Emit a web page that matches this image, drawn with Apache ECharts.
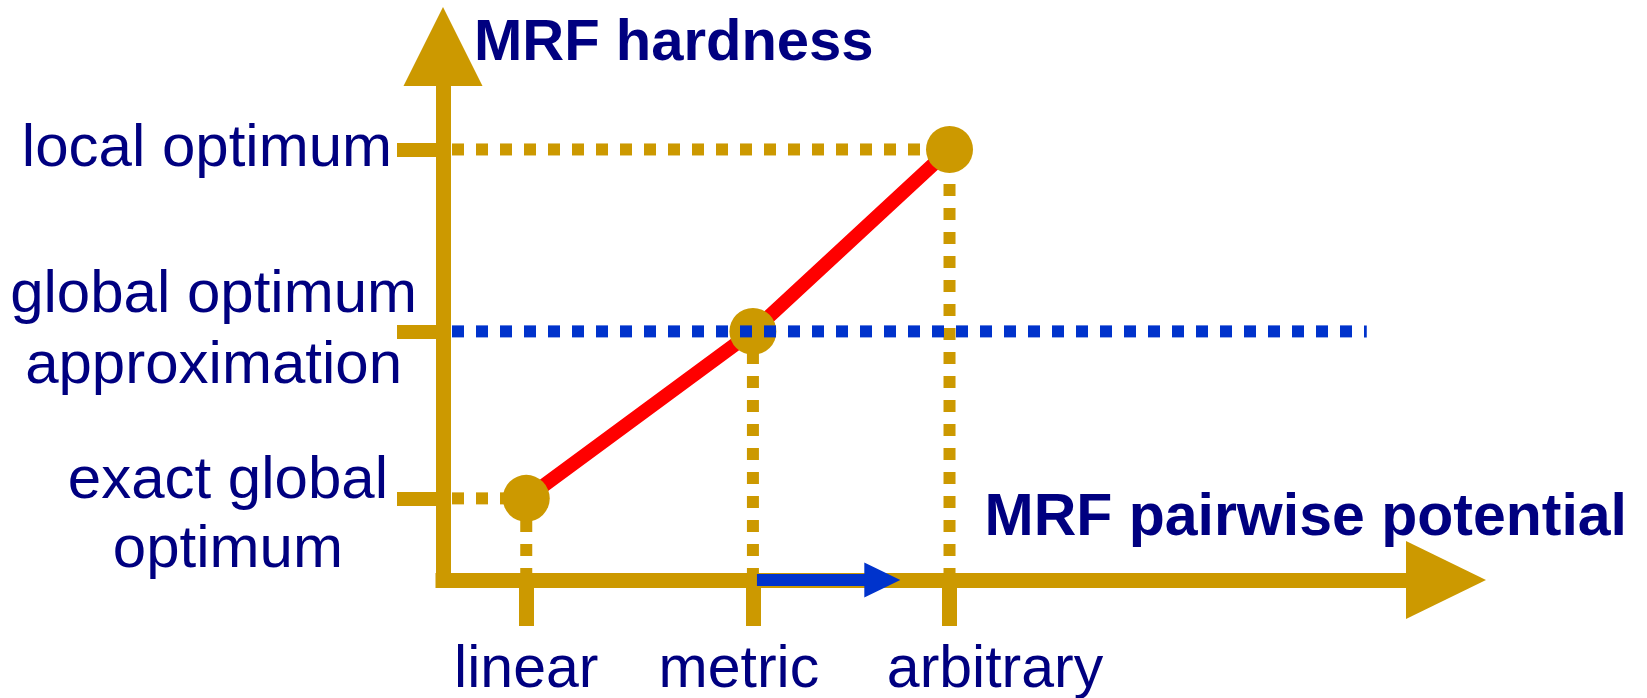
<!DOCTYPE html>
<html>
<head>
<meta charset="utf-8">
<title>MRF hardness vs pairwise potential</title>
<script src="https://cdn.jsdelivr.net/npm/echarts@6.0.0/dist/echarts.min.js"></script>
<style>
  html, body { margin: 0; padding: 0; background: #fff; }
  #chart { width: 1647px; height: 698px; }
</style>
</head>
<body>
<div id="chart"></div>
<script>
// x positions of the pairwise potential classes, y positions of the hardness levels
const potentialNames = ['linear', 'metric', 'arbitrary'];
const potentialX = [0.83, 3.09, 5.05];
const hardnessNames = ['exact global\noptimum', 'global optimum\napproximation', 'local optimum'];
const hardnessY = [1.53, 4.66, 8.07];
// blue dotted "approximation" level ends here
const approxLineEnd = 9.21;
// blue arrow along the x axis, from / to
const shiftArrow = [3.13, 4.38];

const GOLD = '#cc9900';
const NAVY = '#000080';
const BLUE = '#0033cc';
const RED = '#ff0000';
const FONT = '"Liberation Sans", Helvetica, Arial, sans-serif';

const xKeys = ['lin', 'met', 'arb'];
const yKeys = ['exact', 'approx', 'local'];

const xLabelText = { fontFamily: FONT, fontSize: 59, color: NAVY };
const yLabelText = { fontFamily: FONT, fontSize: 60, color: NAVY };

function guide(points, color, offset, z) {
  return {
    type: 'line',
    data: points,
    symbol: 'none',
    silent: true,
    z: z,
    lineStyle: { color: color, width: 12, type: [12, 12], dashOffset: offset, cap: 'butt' },
  };
}

const points = potentialX.map((x, i) => [x, hardnessY[i]]);

const series = [];
// vertical gold guides down to the x axis
potentialX.forEach((x, i) => {
  series.push(guide([[x, 0], [x, hardnessY[i]]], GOLD, 0, 1));
});
// horizontal gold guides to the y axis (the middle one is blue)
[0, 2].forEach((i) => {
  series.push(guide([[0, hardnessY[i]], [potentialX[i], hardnessY[i]]], GOLD, 15, 1));
});
series.push({
  type: 'line',
  data: points,
  symbol: 'none',
  silent: true,
  z: 2,
  lineStyle: { color: RED, width: 14 },
});
series.push({
  type: 'scatter',
  data: points,
  symbolSize: 47,
  silent: true,
  z: 3,
  itemStyle: { color: GOLD, opacity: 1 },
});
series.push(guide([[0, hardnessY[1]], [approxLineEnd, hardnessY[1]]], BLUE, 15, 4));
series.push({
  type: 'line',
  data: [],
  z: 5,
  markLine: {
    silent: true,
    animation: false,
    symbol: ['none', 'triangle'],
    symbolSize: [35, 36],
    label: { show: false },
    lineStyle: { color: BLUE, width: 12, type: 'solid', cap: 'butt' },
    data: [[{ coord: [shiftArrow[0], 0] }, { coord: [shiftArrow[1], 0] }]],
  },
});

const chart = echarts.init(document.getElementById('chart'));
chart.setOption({
  animation: false,
  backgroundColor: '#ffffff',
  grid: { left: 443, right: 201, top: 46.5, bottom: 118, containLabel: false, outerBoundsMode: 'none' },
  xAxis: {
    type: 'value',
    min: 0,
    max: 10,
    splitLine: { show: false },
    name: 'MRF pairwise potential',
    nameLocation: 'end',
    nameGap: 181,
    nameMoveOverlap: false,
    nameTextStyle: {
      fontFamily: FONT, fontSize: 59, fontWeight: 'bold', color: NAVY,
      align: 'right', verticalAlign: 'bottom', padding: [0, 0, 32, 0],
    },
    axisLine: {
      symbol: ['none', 'triangle'],
      symbolSize: [78, 80],
      lineStyle: { color: GOLD, width: 15, cap: 'square' },
    },
    axisTick: { customValues: potentialX, length: 46, lineStyle: { color: GOLD, width: 15 } },
    axisLabel: {
      customValues: potentialX,
      margin: 61,
      formatter: (v) => {
        const i = potentialX.indexOf(v);
        return '{' + xKeys[i] + '|' + potentialNames[i] + '}';
      },
      rich: {
        lin: Object.assign({}, xLabelText),
        met: Object.assign({ padding: [0, 28, 0, 0] }, xLabelText),
        arb: Object.assign({ padding: [0, 0, 0, 91] }, xLabelText),
      },
    },
  },
  yAxis: {
    type: 'value',
    min: 0,
    max: 10,
    splitLine: { show: false },
    name: 'MRF hardness',
    nameLocation: 'end',
    nameGap: 2.5,
    nameMoveOverlap: false,
    nameTextStyle: {
      fontFamily: FONT, fontSize: 58, fontWeight: 'bold', color: NAVY,
      align: 'left', verticalAlign: 'middle', padding: [0, 0, 0, 31],
    },
    axisLine: {
      symbol: ['none', 'triangle'],
      symbolSize: [79, 79],
      lineStyle: { color: GOLD, width: 15, cap: 'square' },
    },
    axisTick: { customValues: hardnessY, length: 46, lineStyle: { color: GOLD, width: 14 } },
    axisLabel: {
      customValues: hardnessY,
      margin: 26,
      formatter: (v) => {
        const i = hardnessY.indexOf(v);
        const lines = hardnessNames[i].split('\n').map((t) => '{' + yKeys[i] + '|' + t + '}');
        if (i === 0) {
          lines.unshift('{sp| }');
        }
        return lines.join('\n');
      },
      rich: {
        exact: Object.assign({ align: 'center', lineHeight: 69, padding: [0, 29, 0, 0] }, yLabelText),
        approx: Object.assign({ align: 'center', lineHeight: 71 }, yLabelText),
        local: Object.assign({ align: 'center', lineHeight: 69, padding: [0, 25, 0, 0] }, yLabelText),
        sp: { fontSize: 10, lineHeight: 36 },
      },
    },
  },
  series: series,
});

window.addEventListener('resize', () => chart.resize());
</script>
</body>
</html>
